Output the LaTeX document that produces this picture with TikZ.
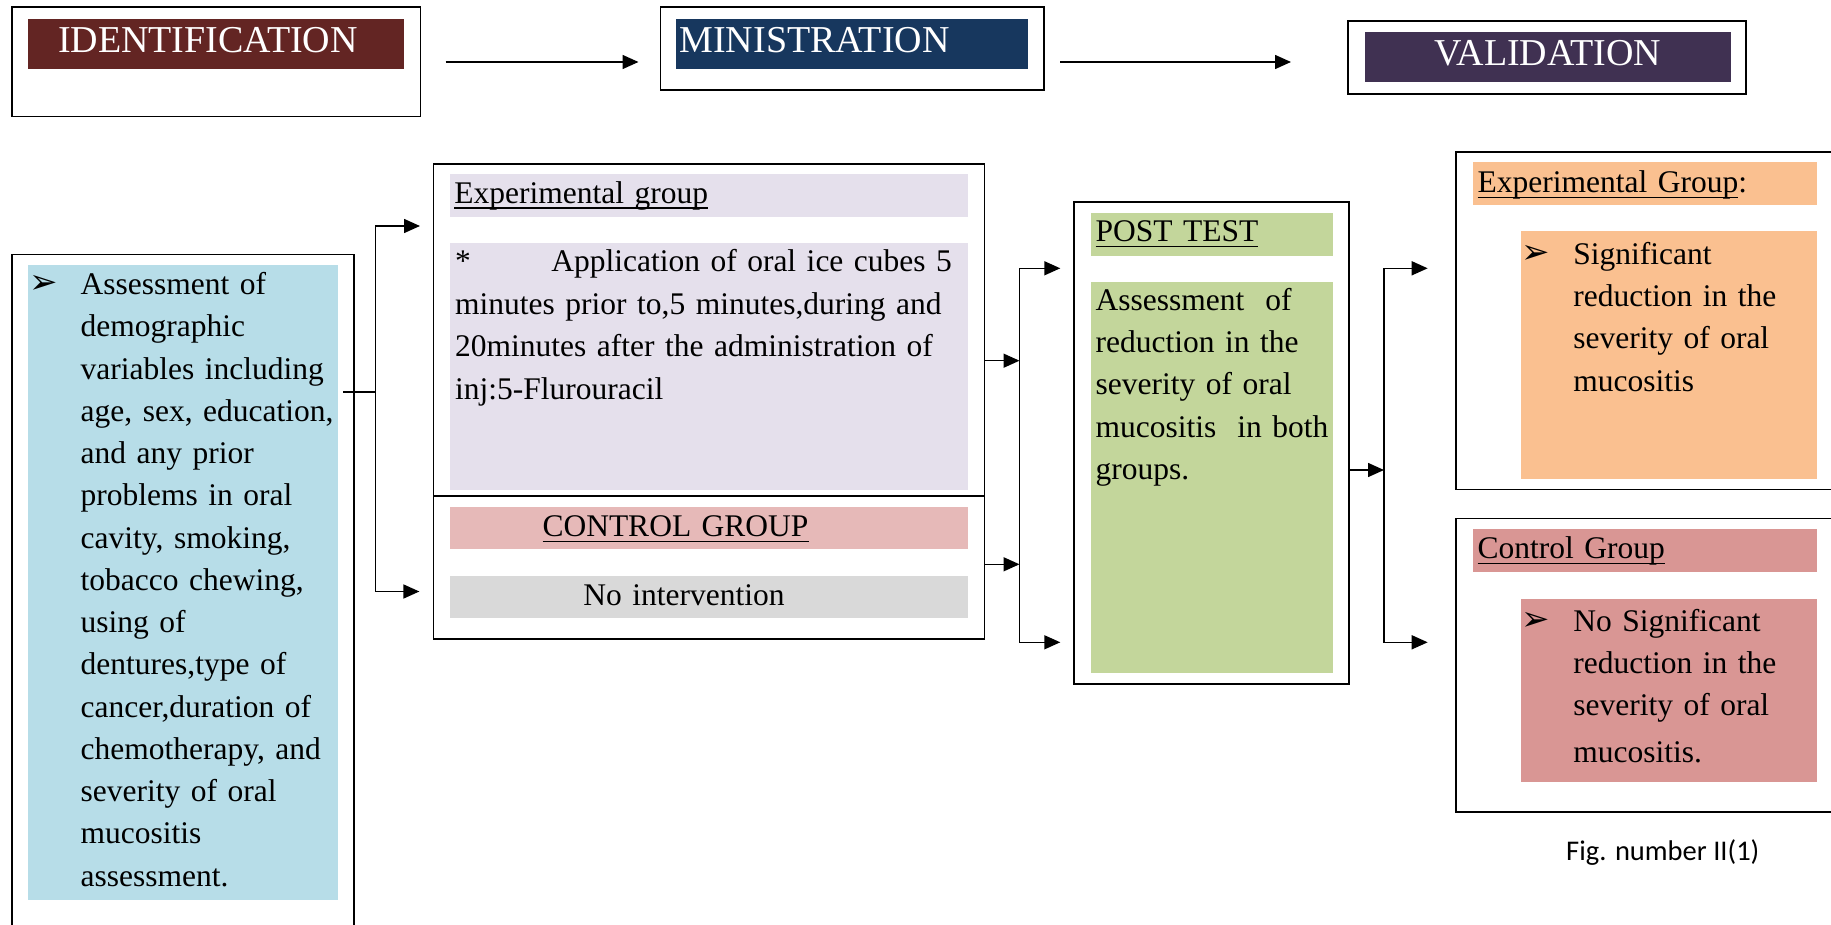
\documentclass[tikz,border=0pt]{standalone}
\usepackage{fontspec}
\setmainfont{Liberation Serif}
\newfontfamily\symfont{DejaVu Sans}
\newfontfamily\capfont{Carlito}
\usetikzlibrary{arrows.meta,calc}

\definecolor{idred}{RGB}{99,37,35}
\definecolor{minblue}{RGB}{23,55,94}
\definecolor{valpurple}{RGB}{64,49,82}
\definecolor{leftblue}{RGB}{183,221,232}
\definecolor{lavender}{RGB}{229,224,236}
\definecolor{ctrlpink}{RGB}{230,185,184}
\definecolor{nogray}{RGB}{217,217,217}
\definecolor{ptgreen}{RGB}{195,214,155}
\definecolor{resorange}{RGB}{250,192,144}
\definecolor{resred}{RGB}{217,150,148}

\newcommand\bodyfont{\fontsize{31.5}{42.4}\selectfont}
\newcommand\titlefont{\fontsize{38}{40}\selectfont}
\newcommand\ulx[1]{\setbox0=\hbox{#1}\rlap{\rule[-5.5pt]{\wd0}{1.4pt}}\box0}
\newcommand\bul{\llap{\smash{\raisebox{1pt}{\symfont\fontsize{34}{34}\selectfont ➢}}\hspace{23pt}}}
\newcommand\mybox[6]{\node[#1, minimum width={(#5)-(#3)}, minimum height={(#6)-(#4)}] (#2) at (#3,#4) {};}

\begin{document}
\begin{tikzpicture}[x=1pt,y=-1pt,
  frame/.style={draw=black, line width=1.6pt, inner sep=0pt, outer sep=0pt, anchor=north west},
  panel/.style={draw=none, inner sep=0pt, outer sep=0pt, anchor=north west},
  txt/.style={inner sep=0pt, outer sep=0pt, anchor=base west, font=\bodyfont, align=left, text width=700pt},
  ttl/.style={inner sep=0pt, outer sep=0pt, anchor=base west, font=\titlefont, text=white},
  arr/.style={line width=1.5pt, -{Triangle[length=16pt,width=14pt]}},
  con/.style={line width=1.5pt}]
\useasboundingbox (0,0) rectangle (1831,925);
\clip (0,0) rectangle (1831,925);

% ---------- top row ----------
\mybox{frame}{idbox}{12}{7.3}{420.5}{116.7}
\mybox{panel,fill=idred}{idfill}{28}{19}{404}{69}
\node[ttl] (idtext) at (58,52.7) {IDENTIFICATION};

\mybox{frame}{minbox}{660.5}{7.3}{1044}{90}
\mybox{panel,fill=minblue}{minfill}{675.7}{19}{1028}{69}
\node[ttl] (mintext) at (679.5,52.7) {MINISTRATION};

\mybox{frame}{valbox}{1348}{21}{1746}{94}
\mybox{panel,fill=valpurple}{valfill}{1365.4}{32.3}{1730.8}{81.7}
\node[ttl, anchor=base] (valtext) at (1547.7,65.7) {VALIDATION};

\draw[arr] ($(idbox.east)+(25,0)$) -- ($(minbox.west |- idbox.east)+(-22,0)$);
\draw[arr] ($(minbox.east |- idbox.east)+(16,0)$) -- ($(valbox.west |- idbox.east)+(-57,0)$);

% ---------- left box ----------
\mybox{frame}{leftbox}{11.7}{254.4}{354}{1000}
\mybox{panel,fill=leftblue}{leftfill}{28.3}{264.9}{337.7}{900.3}
\node[txt, font=\fontsize{31.5}{42.26}\selectfont] (lefttext) at (80.7,294.6) {\bul Assessment of\\
demographic\\
variables including\\
age, sex, education,\\
and any prior\\
problems in oral\\
cavity, smoking,\\
tobacco chewing,\\
using of\\
dentures,type of\\
cancer,duration of\\
chemotherapy, and\\
severity of oral\\
mucositis\\
assessment.};

% ---------- middle box ----------
\mybox{frame}{midbox}{433.4}{164}{984.5}{639}
\coordinate (divy) at (0,495.7);
\draw[line width=1.6pt] (midbox.west |- divy) -- (midbox.east |- divy);
\mybox{panel,fill=lavender}{expfill}{449.9}{174}{968}{216.7}
\node[txt] (exptitle) at (454.4,203.3) {\ulx{Experimental group}};
\mybox{panel,fill=lavender}{expbody}{449.9}{243.3}{968}{490}
\node[txt] (exptext) at (455.2,272) {\rlap{*}\hspace{96.1pt}Application of oral ice cubes 5\\
minutes prior to,5 minutes,during and\\
20minutes after the administration of\\
inj:5-Flurouracil};
\mybox{panel,fill=ctrlpink}{ctrlfill}{449.9}{507.3}{968}{549.3}
\node[txt] (ctrltitle) at (542.5,536.7) {\ulx{CONTROL GROUP}};
\mybox{panel,fill=nogray}{nofill}{449.9}{576}{968}{618.3}
\node[txt] (notext) at (583.4,605) {No intervention};

% ---------- post test ----------
\mybox{frame}{ptbox}{1074}{202.3}{1348.7}{684}
\mybox{panel,fill=ptgreen}{pthead}{1091}{213.3}{1333}{255.7}
\node[txt] (pttitle) at (1095.7,241.7) {\ulx{POST TEST}};
\mybox{panel,fill=ptgreen}{ptbody}{1091}{282.3}{1333}{673.3}
\node[txt] (pttext) at (1095.7,310) {Assessment\ \ of\\
reduction in the\\
severity of oral\\
mucositis\ \ in both\\
groups.};

% ---------- results ----------
\mybox{frame}{resexpbox}{1456}{152}{1900}{489.6}
\mybox{panel,fill=resorange}{rehead}{1473.3}{162.3}{1816.7}{204.7}
\node[txt] (retitle) at (1477.7,192.7) {\ulx{Experimental Group}:};
\mybox{panel,fill=resorange}{rebody}{1521}{231.5}{1816.7}{479.3}
\node[txt] (retext) at (1573.3,264.1) {\bul Significant\\
reduction in the\\
severity of oral\\
mucositis};

\mybox{frame}{resctrlbox}{1456}{518.6}{1900}{811.9}
\mybox{panel,fill=resred}{rchead}{1473.3}{529.3}{1816.7}{571.7}
\node[txt] (rctitle) at (1477.7,558.75) {\ulx{Control Group}};
\mybox{panel,fill=resred}{rcbody}{1521}{598.5}{1816.7}{781.5}
\node[txt] (rctext) at (1573.3,631) {\bul No Significant\\
reduction in the\\
severity of oral\\[4.5pt]
mucositis.};

\node[inner sep=0pt, anchor=base west, font=\capfont\fontsize{28.5}{30}\selectfont] (caption) at (1566,860) {Fig. number II(1)};

% ---------- connectors ----------
\coordinate (lstart) at (343.3,392);
\coordinate (ljoin) at (375.7,392);
\coordinate (ltop) at (375.7,226);
\coordinate (lbot) at (375.7,591.5);
\draw[arr] (lstart) -| (ltop) -- ($(ltop -| midbox.west)+(-13.4,0)$);
\draw[arr] (ljoin) |- ($(lbot -| midbox.west)+(-14,0)$);

\coordinate (mtop) at (1019.5,268.3);
\coordinate (mbot) at (1019.5,642.3);
\draw[arr] ($(midbox.north east)+(0,196.7)$) -- +(35,0);
\draw[arr] ($(midbox.north east)+(0,400.3)$) -- +(35,0);
\draw[arr] (mbot) -- (mtop) -- ($(mtop -| ptbox.west)+(-13.7,0)$);
\draw[arr] (mtop) -- (mbot) -- ($(mbot -| ptbox.west)+(-13.7,0)$);

\coordinate (rtop) at (1384,268.3);
\coordinate (rbot) at (1384,642.3);
\draw[arr] ($(ptbox.north east)+(0,267.7)$) -- +(35.3,0);
\draw[arr] (rbot) -- (rtop) -- ($(rtop -| resexpbox.west)+(-28.3,0)$);
\draw[arr] (rtop) -- (rbot) -- ($(rbot -| resctrlbox.west)+(-28.3,0)$);
\end{tikzpicture}
\end{document}
